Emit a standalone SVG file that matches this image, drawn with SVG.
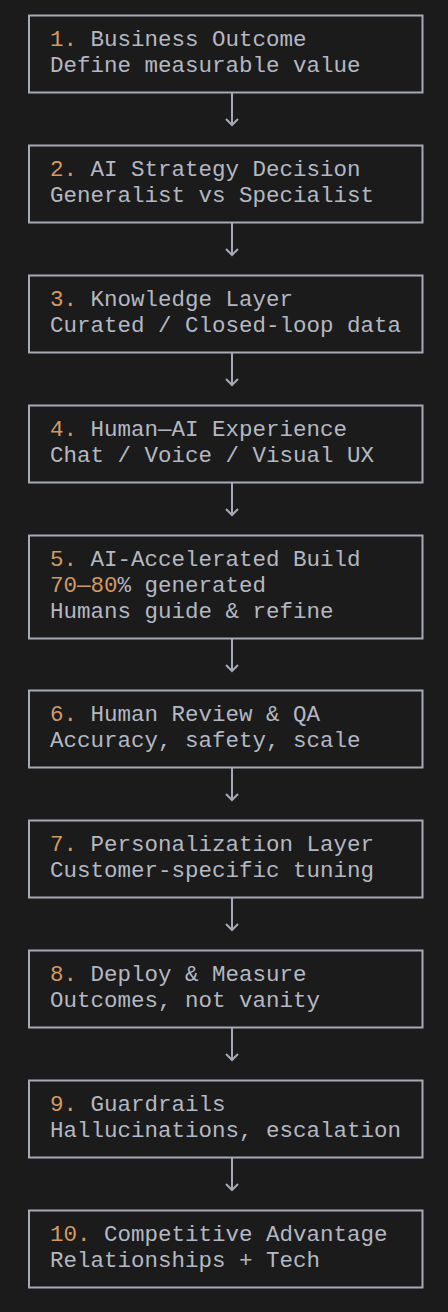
<svg xmlns="http://www.w3.org/2000/svg" width="448" height="1312" viewBox="0 0 448 1312">
<style>
.bg{fill:#1b1b1b}
.box{fill:#1b1b1b;stroke:#a6aab4;stroke-width:2}
.t{font-family:"Liberation Mono","DejaVu Sans Mono",monospace;font-size:22.5px;fill:#b4b8c2}
.n{fill:#d49a62}
.c{stroke:#a6aab4;stroke-width:2;fill:none}
</style>
<rect class="bg" x="0" y="0" width="448" height="1312"/>
<g id="connectors">
<path class="c" d="M232 93V125M226 119L232 125L238 119"/>
<path class="c" d="M232 223V255M226 249L232 255L238 249"/>
<path class="c" d="M232 353V385M226 379L232 385L238 379"/>
<path class="c" d="M232 483V515M226 509L232 515L238 509"/>
<path class="c" d="M232 639V671M226 665L232 671L238 665"/>
<path class="c" d="M232 768V800M226 794L232 800L238 794"/>
<path class="c" d="M232 898V930M226 924L232 930L238 924"/>
<path class="c" d="M232 1028V1060M226 1054L232 1060L238 1054"/>
<path class="c" d="M232 1158V1190M226 1184L232 1190L238 1184"/>
</g>
<g id="node1"><rect class="box" x="29" y="15.5" width="393.5" height="77"/>
<text class="t" x="50" y="46"><tspan class="n">1.</tspan> Business Outcome</text>
<text class="t" x="50" y="72">Define measurable value</text></g>
<g id="node2"><rect class="box" x="29" y="145.5" width="393.5" height="77"/>
<text class="t" x="50" y="176"><tspan class="n">2.</tspan> AI Strategy Decision</text>
<text class="t" x="50" y="202">Generalist vs Specialist</text></g>
<g id="node3"><rect class="box" x="29" y="275.5" width="393.5" height="77"/>
<text class="t" x="50" y="306"><tspan class="n">3.</tspan> Knowledge Layer</text>
<text class="t" x="50" y="332">Curated / Closed-loop data</text></g>
<g id="node4"><rect class="box" x="29" y="405.5" width="393.5" height="77"/>
<text class="t" x="50" y="436"><tspan class="n">4.</tspan> Human—AI Experience</text>
<text class="t" x="50" y="462">Chat / Voice / Visual UX</text></g>
<g id="node5"><rect class="box" x="29" y="535.5" width="393.5" height="103"/>
<text class="t" x="50" y="566"><tspan class="n">5.</tspan> AI-Accelerated Build</text>
<text class="t" x="50" y="592"><tspan class="n">70—80</tspan>% generated</text>
<text class="t" x="50" y="618">Humans guide &amp; refine</text></g>
<g id="node6"><rect class="box" x="29" y="690.5" width="393.5" height="77"/>
<text class="t" x="50" y="721"><tspan class="n">6.</tspan> Human Review &amp; QA</text>
<text class="t" x="50" y="747">Accuracy, safety, scale</text></g>
<g id="node7"><rect class="box" x="29" y="820.5" width="393.5" height="77"/>
<text class="t" x="50" y="851"><tspan class="n">7.</tspan> Personalization Layer</text>
<text class="t" x="50" y="877">Customer-specific tuning</text></g>
<g id="node8"><rect class="box" x="29" y="950.5" width="393.5" height="77"/>
<text class="t" x="50" y="981"><tspan class="n">8.</tspan> Deploy &amp; Measure</text>
<text class="t" x="50" y="1007">Outcomes, not vanity</text></g>
<g id="node9"><rect class="box" x="29" y="1080.5" width="393.5" height="77"/>
<text class="t" x="50" y="1111"><tspan class="n">9.</tspan> Guardrails</text>
<text class="t" x="50" y="1137">Hallucinations, escalation</text></g>
<g id="node10"><rect class="box" x="29" y="1210.5" width="393.5" height="77"/>
<text class="t" x="50" y="1241"><tspan class="n">10.</tspan> Competitive Advantage</text>
<text class="t" x="50" y="1267">Relationships + Tech</text></g>
</svg>
